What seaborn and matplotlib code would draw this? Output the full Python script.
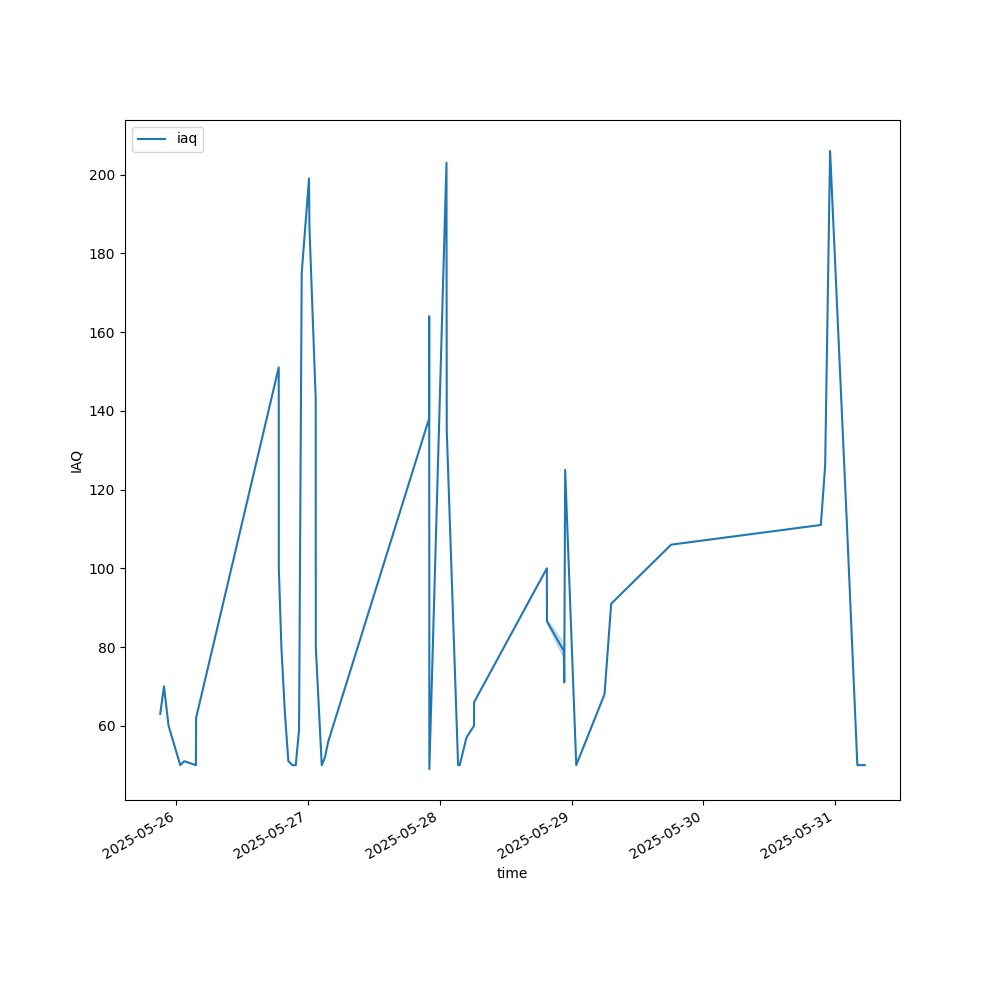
import pandas as pd
import matplotlib
matplotlib.use('Agg')
import matplotlib.pyplot as plt
import seaborn as sns

# readings
times = [
    '2025-05-25 21:05', '2025-05-25 21:46', '2025-05-25 22:36', '2025-05-26 00:44',
    '2025-05-26 01:27', '2025-05-26 03:35', '2025-05-26 03:37', '2025-05-26 18:40',
    '2025-05-26 18:41', '2025-05-26 19:09', '2025-05-26 19:48', '2025-05-26 20:25',
    '2025-05-26 21:09', '2025-05-26 21:46', '2025-05-26 22:22', '2025-05-26 22:51',
    '2025-05-27 00:11', '2025-05-27 00:15', '2025-05-27 01:24', '2025-05-27 01:25',
    '2025-05-27 02:30', '2025-05-27 03:05', '2025-05-27 03:41', '2025-05-27 22:03',
    '2025-05-27 22:04', '2025-05-27 22:06', '2025-05-28 01:13', '2025-05-28 01:16',
    '2025-05-28 03:20', '2025-05-28 03:38', '2025-05-28 04:51', '2025-05-28 06:14',
    '2025-05-28 06:15', '2025-05-28 19:30', '2025-05-28 19:31', '2025-05-28 19:31',
    '2025-05-28 22:36', '2025-05-28 22:36', '2025-05-28 22:36', '2025-05-28 22:40',
    '2025-05-28 22:50', '2025-05-29 00:51', '2025-05-29 06:00', '2025-05-29 07:13',
    '2025-05-29 18:08', '2025-05-30 21:24', '2025-05-30 22:11', '2025-05-30 23:05',
    '2025-05-31 02:11', '2025-05-31 04:03', '2025-05-31 05:24',
]
iaq = [
    63, 70, 60, 50,
    51, 50, 62, 151,
    100, 80, 63, 51,
    50, 50, 59, 175,
    199, 187, 143, 80,
    50, 52, 56, 138,
    164, 49, 203, 135,
    50, 50, 57, 60,
    66, 100, 86, 87,
    77, 79, 81, 71,
    125, 50, 68, 91,
    106, 111, 126, 206,
    110, 50, 50,
]

data = pd.DataFrame({'time': pd.to_datetime(times), 'iaq': iaq})

fig, ax = plt.subplots(figsize=(10, 10), dpi=100)
sns.lineplot(data=data, x='time', y='iaq', label='iaq', ax=ax, seed=0)
ax.set_xlabel('time')
ax.set_ylabel('IAQ')
ax.legend(loc='upper left')
fig.autofmt_xdate()
plt.savefig('out.png', dpi=100)
